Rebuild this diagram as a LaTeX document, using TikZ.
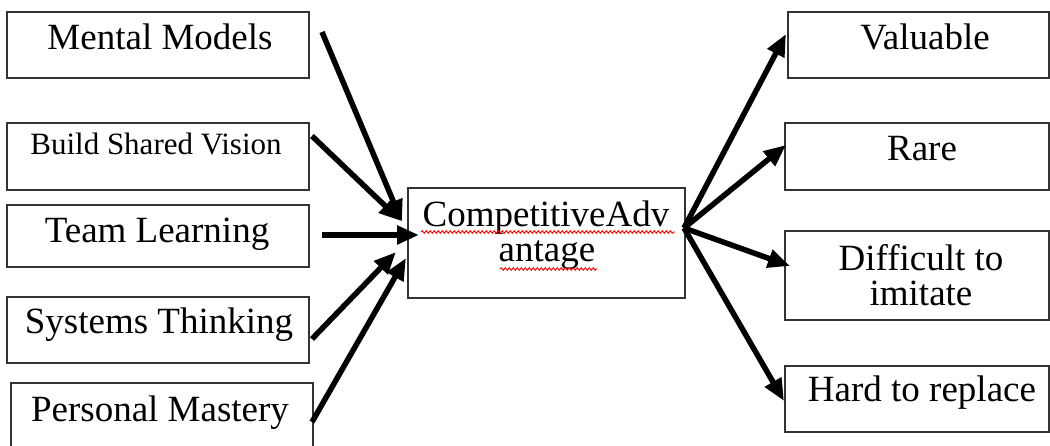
\documentclass[tikz,border=0pt]{standalone}
\usepackage{fontspec}
\setmainfont{Liberation Serif}
\usetikzlibrary{arrows.meta,decorations.pathmorphing}
\begin{document}
\begin{tikzpicture}[x=1pt,y=-1pt,
  box/.style={draw=black!80,line width=1.8pt,rectangle,inner sep=0pt,outer sep=0pt,anchor=north west},
  txt/.style={anchor=base,inner sep=0pt,font=\fontsize{37pt}{42pt}\selectfont},
  smalltxt/.style={anchor=base,inner sep=0pt,font=\fontsize{31pt}{36pt}\selectfont},
  arr/.style={line width=5.5pt,-{Triangle[length=22pt,width=18pt]}},
  squig/.style={red,line width=0.9pt,decorate,decoration={snake,amplitude=1.3pt,segment length=4pt}}]
\useasboundingbox[fill=white] (0,0) rectangle (1050,446);
% left boxes
\node[box,minimum width=302pt,minimum height=66pt] (mm) at (7,12) {};
\node[box,minimum width=302pt,minimum height=67pt] (bsv) at (7,123) {};
\node[box,minimum width=302pt,minimum height=62pt] (tl) at (7,205) {};
\node[box,minimum width=302pt,minimum height=66pt] (st) at (7,297) {};
\node[box,minimum width=302pt,minimum height=80pt] (pm) at (11,383) {};
\node[txt] (mmt) at (160,50) {Mental Models};
\node[smalltxt] (bsvt) at (156,155) {Build Shared Vision};
\node[txt] (tlt) at (157,243) {Team Learning};
\node[txt] (stt) at (159,334) {Systems Thinking};
\node[txt] (pmt) at (160,421) {Personal Mastery};
% centre box
\node[box,minimum width=277pt,minimum height=110pt] (ca) at (408,188) {};
\node[txt] (cat1) at (546,227) {CompetitiveAdv};
\node[txt] (cat2) at (547,262) {antage};
\draw[squig] (421,232) -- (675,232);
\draw[squig] (500,269) -- (597,269);
% right boxes
\node[box,minimum width=261pt,minimum height=66pt] (val) at (788,12) {};
\node[box,minimum width=264pt,minimum height=67pt] (rar) at (785,123) {};
\node[box,minimum width=264pt,minimum height=89pt] (dti) at (785,231) {};
\node[box,minimum width=264pt,minimum height=66pt] (htr) at (785,366) {};
\node[txt] (valt) at (925,50) {Valuable};
\node[txt] (rart) at (922,161) {Rare};
\node[txt] (dtit1) at (921,271) {Difficult to};
\node[txt] (dtit2) at (921,306) {imitate};
\node[txt] (htrt) at (922,402) {Hard to replace};
% arrow end points
\coordinate (mmS) at (322,32);
\coordinate (mmE) at (402,222);
\coordinate (bsvS) at (312,136);
\coordinate (bsvE) at (401,221);
\coordinate (tlS) at (322,235);
\coordinate (tlE) at (419,235);
\coordinate (stS) at (312,339);
\coordinate (stE) at (396,252);
\coordinate (pmS) at (312,422);
\coordinate (pmE) at (406,258);
\coordinate (hub) at (684,228);
\coordinate (valE) at (786,34);
\coordinate (rarE) at (786,145);
\coordinate (dtiE) at (790,266);
\coordinate (htrE) at (784,401);
\draw[arr] (mmS) -- (mmE);
\draw[arr] (bsvS) -- (bsvE);
\draw[arr] (tlS) -- (tlE);
\draw[arr] (stS) -- (stE);
\draw[arr] (pmS) -- (pmE);
\draw[arr] (hub) -- (valE);
\draw[arr] (hub) -- (rarE);
\draw[arr] (hub) -- (dtiE);
\draw[arr] (hub) -- (htrE);
\end{tikzpicture}
\end{document}
